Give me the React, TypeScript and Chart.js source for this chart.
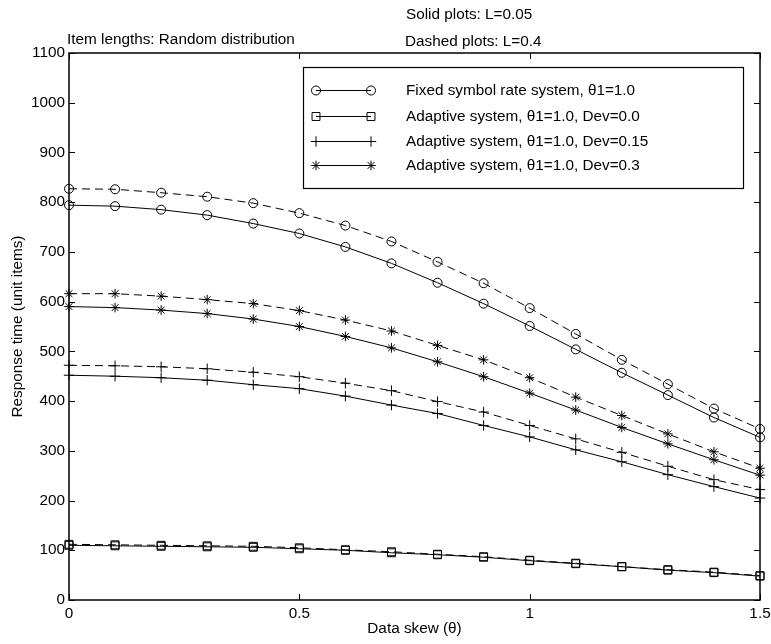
import React, { useEffect, useRef } from "react";
import { Chart, registerables } from "chart.js";

Chart.register(...registerables);

const skew = [0, 0.1, 0.2, 0.3, 0.4, 0.5, 0.6, 0.7, 0.8, 0.9, 1.0, 1.1, 1.2, 1.3, 1.4, 1.5];

const fixedSolid = [794, 792, 785, 774, 757, 737, 710, 677, 638, 596, 551, 504, 457, 412, 367, 327];
const fixedDashed = [827, 826, 819, 811, 798, 778, 753, 721, 680, 637, 587, 535, 483, 434, 385, 344];
const dev00Solid = [110, 109, 108, 107, 106, 103, 100, 95, 91, 86, 79, 73, 67, 60, 55, 48];
const dev00Dashed = [112, 111, 110, 109, 108, 105, 101, 97, 92, 87, 80, 74, 67, 61, 56, 49];
const dev015Solid = [452, 450, 447, 442, 433, 425, 410, 392, 375, 351, 328, 302, 278, 252, 228, 205];
const dev015Dashed = [472, 471, 469, 465, 458, 449, 436, 421, 399, 378, 351, 324, 297, 269, 242, 222];
const dev03Solid = [590, 588, 583, 576, 565, 550, 530, 507, 479, 449, 416, 382, 347, 314, 282, 251];
const dev03Dashed = [616, 616, 611, 604, 596, 582, 563, 541, 512, 483, 447, 408, 371, 334, 298, 265];

const xTicks = [0, 0.5, 1, 1.5];
const yTicks = [0, 100, 200, 300, 400, 500, 600, 700, 800, 900, 1000, 1100];

const legendLabels = [
  "Fixed symbol rate system, \u03b81=1.0",
  "Adaptive system, \u03b81=1.0, Dev=0.0",
  "Adaptive system, \u03b81=1.0, Dev=0.15",
  "Adaptive system, \u03b81=1.0, Dev=0.3",
];
const markerStyles = ["circle", "rect", "cross", "star"];
const markerRadii = [4.5, 5.6, 5.2, 4.8];

const annotations = {
  itemLengths: "Item lengths: Random distribution",
  solid: "Solid plots: L=0.05",
  dashed: "Dashed plots: L=0.4",
};

const FONT = '"Liberation Sans", Arial, Helvetica, sans-serif';
const FS = 15.3;

function drawMarker(ctx: CanvasRenderingContext2D, style: string, x: number, y: number, r: number) {
  ctx.beginPath();
  if (style === "circle") {
    ctx.arc(x, y, r, 0, Math.PI * 2);
  } else if (style === "rect") {
    const s = r * Math.SQRT1_2;
    ctx.rect(x - s, y - s, 2 * s, 2 * s);
  } else if (style === "cross") {
    ctx.moveTo(x - r, y);
    ctx.lineTo(x + r, y);
    ctx.moveTo(x, y - r);
    ctx.lineTo(x, y + r);
  } else if (style === "star") {
    ctx.moveTo(x - r, y);
    ctx.lineTo(x + r, y);
    ctx.moveTo(x, y - r);
    ctx.lineTo(x, y + r);
    const d = r * Math.SQRT1_2;
    ctx.moveTo(x - d, y - d);
    ctx.lineTo(x + d, y + d);
    ctx.moveTo(x - d, y + d);
    ctx.lineTo(x + d, y - d);
  }
  ctx.stroke();
}

const framePlugin = {
  id: "matlabFrame",
  afterDatasetsDraw(chart: any) {
    const { ctx, chartArea } = chart;
    const { left, right, top, bottom } = chartArea;
    const xs = chart.scales.x;
    const ys = chart.scales.y;
    ctx.save();
    ctx.strokeStyle = "#000";
    ctx.lineWidth = 1.5;
    ctx.strokeRect(left, top, right - left, bottom - top);
    ctx.lineWidth = 1;
    const tl = 6;
    ys.ticks.forEach((t: any) => {
      const y = Math.round(ys.getPixelForValue(t.value)) + 0.5;
      ctx.beginPath();
      ctx.moveTo(left, y);
      ctx.lineTo(left + tl, y);
      ctx.moveTo(right, y);
      ctx.lineTo(right - tl, y);
      ctx.stroke();
    });
    xs.ticks.forEach((t: any) => {
      const x = Math.round(xs.getPixelForValue(t.value)) + 0.5;
      ctx.beginPath();
      ctx.moveTo(x, bottom);
      ctx.lineTo(x, bottom - tl);
      ctx.moveTo(x, top);
      ctx.lineTo(x, top + tl);
      ctx.stroke();
    });

    // legend
    const lx = 303, ly = 67, lw = 440, lh = 121;
    ctx.fillStyle = "#fff";
    ctx.fillRect(lx, ly, lw, lh);
    ctx.lineWidth = 1.2;
    ctx.strokeRect(lx + 0.5, ly + 0.5, lw, lh);
    ctx.lineWidth = 1;
    ctx.font = `${FS}px ${FONT}`;
    ctx.textBaseline = "middle";
    ctx.textAlign = "left";
    const rows = [90, 116, 141, 165];
    legendLabels.forEach((label, i) => {
      const y = rows[i] + 0.5;
      ctx.beginPath();
      ctx.moveTo(316, y);
      ctx.lineTo(371, y);
      ctx.stroke();
      drawMarker(ctx, markerStyles[i], 316, y, markerRadii[i]);
      drawMarker(ctx, markerStyles[i], 371, y, markerRadii[i]);
      ctx.fillStyle = "#000";
      ctx.fillText(label, 406, y);
    });

    // annotations
    ctx.fillStyle = "#000";
    ctx.fillText(annotations.itemLengths, 67, 40);
    ctx.fillText(annotations.solid, 406, 15);
    ctx.fillText(annotations.dashed, 405, 42);
    ctx.restore();
  },
};

function mkDataset(data: number[], style: number, dashed: boolean) {
  return {
    data: skew.map((x, i) => ({ x, y: data[i] })),
    borderColor: "#000",
    borderWidth: 1,
    borderDash: dashed ? [8, 5] : [],
    pointStyle: markerStyles[style],
    pointRadius: markerRadii[style],
    pointBorderColor: "#000",
    pointBackgroundColor: "rgba(0,0,0,0)",
    pointBorderWidth: 1,
    tension: 0,
    fill: false,
    clip: false as any,
  };
}

export default function App() {
  const ref = useRef<HTMLCanvasElement>(null);
  useEffect(() => {
    if (!ref.current) return;
    Chart.defaults.font.family = FONT;
    Chart.defaults.color = "#000";
    const chart = new Chart(ref.current, {
      type: "line",
      data: {
        datasets: [
          mkDataset(fixedDashed, 0, true),
          mkDataset(fixedSolid, 0, false),
          mkDataset(dev00Dashed, 1, true),
          mkDataset(dev00Solid, 1, false),
          mkDataset(dev015Dashed, 2, true),
          mkDataset(dev015Solid, 2, false),
          mkDataset(dev03Dashed, 3, true),
          mkDataset(dev03Solid, 3, false),
        ],
      },
      options: {
        responsive: false,
        animation: false,
        devicePixelRatio: 1,
        layout: { padding: { top: 53, right: 11, left: 0, bottom: 0 } },
        plugins: {
          legend: { display: false },
          tooltip: { enabled: false },
          title: { display: false },
        },
        scales: {
          x: {
            type: "linear",
            min: 0,
            max: 1.5,
            afterBuildTicks: (s: any) => {
              s.ticks = xTicks.map((v) => ({ value: v }));
            },
            afterFit: (s: any) => {
              s.height = 44;
              s.paddingLeft = 0;
              s.paddingRight = 0;
            },
            ticks: {
              padding: 5,
              font: { size: FS },
              color: "#000",
              maxRotation: 0,
              autoSkip: false,
              callback: (v: any) => String(Number(v)),
            },
            grid: { display: false, drawTicks: false },
            border: { display: false },
            title: {
              display: true,
              text: "Data skew (\u03b8)",
              font: { size: FS },
              color: "#000",
              padding: { top: 0, bottom: 6 },
            },
          },
          y: {
            type: "linear",
            min: 0,
            max: 1100,
            afterBuildTicks: (s: any) => {
              s.ticks = yTicks.map((v) => ({ value: v }));
            },
            afterFit: (s: any) => {
              s.width = 69;
              s.paddingTop = 0;
              s.paddingBottom = 0;
            },
            ticks: {
              padding: 4,
              font: { size: FS },
              color: "#000",
              autoSkip: false,
              callback: (v: any) => String(Number(v)),
            },
            grid: { display: false, drawTicks: false },
            border: { display: false },
            title: {
              display: true,
              text: "Response time (unit items)",
              font: { size: FS },
              color: "#000",
              padding: { top: 9, bottom: 0 },
            },
          },
        },
      },
      plugins: [framePlugin],
    });
    return () => chart.destroy();
  }, []);
  return (
    <div style={{ position: "absolute", left: 0, top: 0, width: 771, height: 644, background: "#fff" }}>
      <canvas ref={ref} width={771} height={644} style={{ width: 771, height: 644 }} />
    </div>
  );
}
